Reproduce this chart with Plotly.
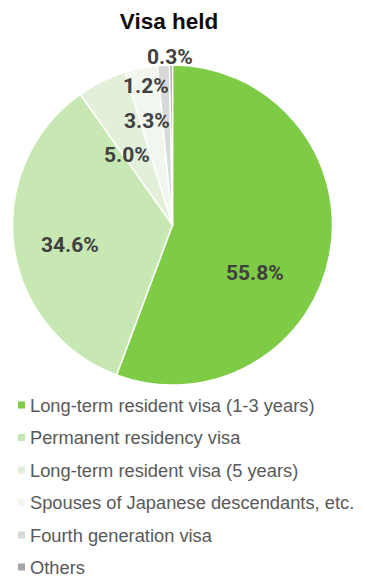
import plotly.graph_objects as go

# Visa categories and their shares (%)
categories = [
    "Long-term resident visa (1-3 years)",
    "Permanent residency visa",
    "Long-term resident visa (5 years)",
    "Spouses of Japanese descendants, etc.",
    "Fourth generation visa",
    "Others",
]
shares = [55.8, 34.6, 5.0, 3.3, 1.2, 0.3]
colors = ["#7ecb45", "#c7e8b2", "#e2f0da", "#f1f7ee", "#d9d9d9", "#a6a6a6"]

W, H = 365, 579

fig = go.Figure(
    go.Pie(
        labels=categories,
        values=shares,
        sort=False,
        direction="clockwise",
        rotation=0,
        textinfo="none",
        hoverinfo="label+percent",
        marker=dict(colors=colors, line=dict(color="white", width=1.5)),
        domain=dict(x=[12 / W, 333 / W], y=[1 - 385 / H, 1 - 65 / H]),
        showlegend=False,
    )
)

# value labels placed on / beside their slices
label_pos = [(255, 273), (70, 245), (127, 155), (147, 121), (146, 86), (170, 57)]
annotations = []
for v, (px, py) in zip(shares, label_pos):
    annotations.append(dict(
        x=px / W, y=1 - py / H, xref="paper", yref="paper",
        text=f"<b>{v:.1f}%</b>", showarrow=False,
        font=dict(family="Roboto", size=21, color="#404040"),
        xanchor="center", yanchor="middle",
    ))

# legend: coloured squares with category names
legend_rows = [405, 437.5, 470, 502.5, 535, 567]
shapes = []
for name, col, ry in zip(categories, colors, legend_rows):
    shapes.append(dict(
        type="rect", xref="paper", yref="paper",
        x0=18 / W, x1=25 / W, y0=1 - (ry + 3.5) / H, y1=1 - (ry - 3.5) / H,
        fillcolor=col, line=dict(width=0),
    ))
    annotations.append(dict(
        x=29 / W, y=1 - ry / H, xref="paper", yref="paper",
        text=name, showarrow=False, borderpad=0,
        font=dict(family="Liberation Sans", size=18.3, color="#595959"),
        xanchor="left", yanchor="middle",
    ))

fig.update_layout(
    width=W, height=H,
    margin=dict(l=0, r=0, t=0, b=0),
    paper_bgcolor="white",
    plot_bgcolor="white",
    title=dict(
        text="<b>Visa held</b>", x=169 / W, xanchor="center",
        y=1 - 21 / H, yanchor="middle",
        font=dict(family="Liberation Sans", size=22.5, color="#0d0d0d"),
    ),
    annotations=annotations,
    shapes=shapes,
)

fig.write_html("out.html")
